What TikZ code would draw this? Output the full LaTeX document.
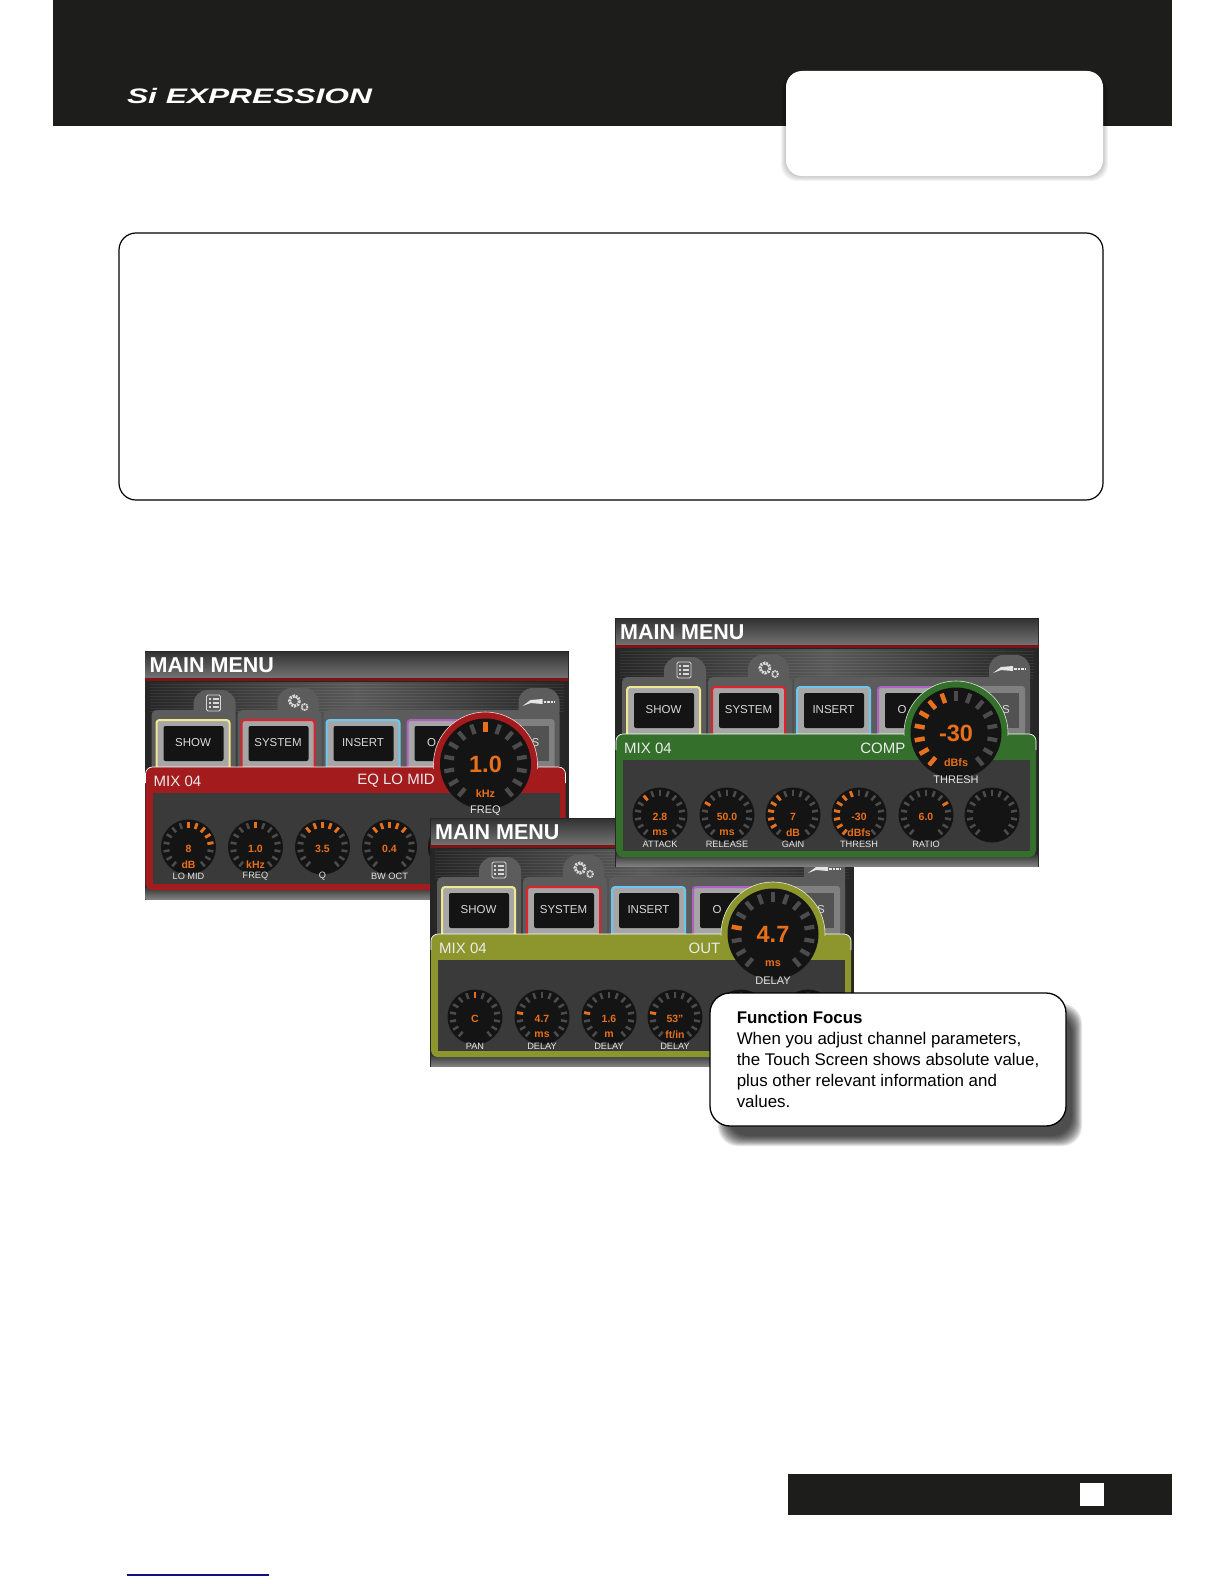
\documentclass[tikz,border=0pt]{standalone}
\usepackage{fontspec}
\setmainfont{Liberation Sans}
\usetikzlibrary{positioning, calc}

\definecolor{pagedark}{HTML}{1D1D1B}
\definecolor{eqred}{HTML}{A31B1D}
\definecolor{compgreen}{HTML}{34702B}
\definecolor{outolive}{HTML}{8C962C}
\definecolor{dialtick}{HTML}{4C4C4C}
\definecolor{dialorange}{HTML}{E8701A}
\definecolor{tabgrey}{HTML}{5C5C5C}
\definecolor{insetgrey}{HTML}{3A3A3A}
\definecolor{showyellow}{HTML}{F0E890}
\definecolor{sysred}{HTML}{E0222A}
\definecolor{insertblue}{HTML}{6CC6EE}
\definecolor{outpurple}{HTML}{AE62C2}
\definecolor{footblue}{HTML}{10107F}

% dial with its grey ticks
\newcommand{\knobdial}[3]{
    \fill[black!92] (#1) circle[radius=#2];
    \foreach \t in {230,210,190,170,150,130,110,90,70,50,30,10,350,330,310}
        \draw[dialtick, line width=#3] ($(#1)+(-\t:0.70*#2)$) -- ($(#1)+(-\t:0.92*#2)$);
}
% orange ticks over a dial
\newcommand{\knobmarks}[4]{
    \foreach \t in {#4}
        \draw[dialorange, line width=#3] ($(#1)+(-\t:0.70*#2)$) -- ($(#1)+(-\t:0.92*#2)$);
}
% small knob: centre, value, unit, label, orange ticks
\newcommand{\smallknob}[5]{
    \knobdial{#1}{27.5}{2.5}
    \knobmarks{#1}{27.5}{2.8}{#5}
    \node (value) [smallvalue] at ($(#1)+(0,2)$) {#2};
    \node (unit) [smallvalue] at ($(#1)+(0,17.5)$) {#3};
    \node (label) [smalllabel] at ($(#1)+(0,29)$) {#4};
}
% one whole screen: colour, section, big knob centre, value, unit, label, orange ticks
\newcommand{\menuscreen}[7]{
    % frame and title bar
    \fill[black!85] (0,0) rectangle (424,249);
    \shade[top color=black!80, bottom color=black!55] (1,1) rectangle (423,27);
    \fill[eqred!75!black] (0,27) rectangle (424,30);
    \shade[left color=black!85, right color=black!85, middle color=black!65] (3,31) rectangle (421,120);
    \foreach \sy in {33,36,...,60}
        \draw[white, opacity=0.07] (5,\sy) -- (419,\sy);
    \shade[top color=black!80, bottom color=black!50] (1,236) rectangle (423,248);
    \node (title) [titletext, anchor=west] at (5,14) {MAIN MENU};
    % tabs
    \fill[tabgrey, rounded corners=5] (7,120) rectangle (91,59);
    \fill[tabgrey, rounded corners=14] (49,75) rectangle (91,39);
    \fill[tabgrey, rounded corners=5] (93,120) rectangle (177,59);
    \fill[tabgrey, rounded corners=14] (133,75) rectangle (174,37);
    \fill[tabgrey, rounded corners=5] (179,120) rectangle (415,59);
    \fill[tabgrey, rounded corners=14] (374,75) rectangle (415,37);
    % tab icons
    \draw[black!15, line width=0.9, rounded corners=1.5] (62,44) rectangle (76,60);
    \foreach \iy in {48,52,56} {
        \draw[black!15, line width=1.1] (64,\iy) -- (66,\iy);
        \draw[black!15, line width=1.1] (68,\iy) -- (74,\iy);
    }
    \draw[black!15, line width=3, dash pattern=on 2 off 1] (150,50) circle[radius=5];
    \draw[black!15, line width=1.8, dash pattern=on 1.2 off 0.7] (160,56) circle[radius=3];
    \fill[black!10] (378,55) -- (386,49) -- (398,48) -- (398,53) -- (386,52) -- cycle;
    \draw[black!10, line width=2, dash pattern=on 2.5 off 1] (399,50.5) -- (410,50.5);
    % buttons
    \foreach \bx/\bcol/\btxt in {12/showyellow/SHOW, 97/sysred/SYSTEM, 182/insertblue/INSERT} {
        \draw[\bcol, line width=2, fill=black!35, rounded corners=3] (\bx,69) rectangle (\bx+73,122);
        \fill[black!92, rounded corners=2] (\bx+7,75) rectangle (\bx+67,110);
        \node (btn\bx) [buttontext] at (\bx+36.5,92) {\btxt};
    }
    \draw[outpurple, line width=2, fill=black!35, rounded corners=3] (263,69) rectangle (336,122);
    \fill[black!92, rounded corners=2] (270,75) rectangle (330,110);
    \node (btnfour) [buttontext] at (287,92) {O};
    \fill[black!50, rounded corners=3] (340,68) rectangle (410,122);
    \fill[black!68] (346,75) rectangle (404,110);
    \node (btnfive) [buttontext] at (391,92) {S};
    % coloured panel
    \fill[#1, rounded corners=7] (1,116) rectangle (421,239);
    \draw[white, line width=0.7, rounded corners=7] (1,132) -- (1,116) -- (421,116) -- (421,132);
    \fill[insetgrey] (8,142) rectangle (415,233);
    \node (mix) [paneltext, anchor=west] at (9,130) {MIX 04};
    \node (section) [paneltext, anchor=east] at (290.5,130) {#2};
    % big knob
    \begin{scope}
        \clip (250,0) rectangle (424,117.5);
        \draw[white!80!#1, line width=0.6, fill=#1] (#3) circle[radius=52];
    \end{scope}
    \knobdial{#3}{45.5}{4.2}
    \knobmarks{#3}{45.5}{4.4}{#7}
    \node (bigvalue) [bigvalue] at (#3) {#4};
    \node (bigunit) [bigunit] at ($(#3)+(0,30)$) {#5};
    \node (biglabel) [smalllabel, font=\fontsize{11}{12}\selectfont] at ($(#3)+(0,46.5)$) {#6};
}

\begin{document}
\begin{tikzpicture}[
        x=1pt,
        y=-1pt,
        inner sep=0pt,
        titletext/.style={text=white, font=\fontsize{21.5}{22}\selectfont\bfseries},
        buttontext/.style={text=black!15, font=\fontsize{11.5}{12}\selectfont},
        paneltext/.style={text=white!92!black, font=\fontsize{15}{16}\selectfont},
        smallvalue/.style={text=dialorange, font=\fontsize{10.5}{11}\selectfont\bfseries},
        smalllabel/.style={text=white!90!black, font=\fontsize{9.2}{10}\selectfont},
        bigvalue/.style={text=dialorange, font=\fontsize{23.5}{24}\selectfont\bfseries},
        bigunit/.style={text=dialorange, font=\fontsize{10.8}{11}\selectfont\bfseries},
        softedge/.style={black, opacity=0.045},
    ]
        \useasboundingbox (0,0) rectangle (1224,1584);

        % Header band and logo
        \fill[pagedark] (53,0) rectangle (1172,126);
        \node (logo) [text=white, xscale=1.51, transform shape, font=\fontsize{21}{22}\selectfont\bfseries\itshape] at (249.5,95.5) {Si EXPRESSION};
        \foreach \i in {1,...,5}
            \fill[softedge, rounded corners=16] (786-\i,71+\i) rectangle (1103+\i,176+\i);
        \node (hdrtab) [fill=white, rounded corners=16, minimum width=317pt, minimum height=105pt] at (944.5,123.5) {};

        % Empty text box
        \node (textbox) [draw=black, line width=1.2pt, fill=white, rounded corners=17, minimum width=984pt, minimum height=267pt] at (611,366.5) {};

        % Red screen
        \begin{scope}[shift={(144.5,651)}]
            \menuscreen{eqred}{EQ LO MID}{341,113}{1.0}{kHz}{FREQ}{90}
            \smallknob{44,196}{8}{dB}{LO MID}{90,70,50,30,10}
            \smallknob{111,196}{1.0}{kHz}{FREQ}{90}
            \smallknob{178,196}{3.5}{}{Q}{130,110,90,70,50}
            \smallknob{245,196}{0.4}{}{BW OCT}{130,110,90,70,50}
            \knobdial{311,196}{27.5}{2.5}
        \end{scope}

        % Olive screen
        \begin{scope}[shift={(430,818)}]
            \menuscreen{outolive}{OUT}{343,116}{4.7}{ms}{DELAY}{170}
            \smallknob{45,199}{C}{}{PAN}{90}
            \smallknob{112,199}{4.7}{ms}{DELAY}{170}
            \smallknob{179,199}{1.6}{m}{DELAY}{170}
            \smallknob{245,199}{53"}{ft/in}{DELAY}{170}
            \knobdial{311,199}{27.5}{2.5}
            \knobdial{378,199}{27.5}{2.5}
        \end{scope}

        % Green screen
        \begin{scope}[shift={(615,618)}]
            \menuscreen{compgreen}{COMP}{341,115}{-30}{dBfs}{THRESH}{230,210,190,170,150,130,110}
            \smallknob{45,197}{2.8}{ms}{ATTACK}{130}
            \smallknob{112,197}{50.0}{ms}{RELEASE}{150}
            \smallknob{178,197}{7}{dB}{GAIN}{210,190,170,150,130}
            \smallknob{244,197}{-30}{dBfs}{THRESH}{230,210,190,170,150,130,110}
            \smallknob{311,197}{6.0}{}{RATIO}{30}
            \knobdial{377,197}{27.5}{2.5}
        \end{scope}

        % Callout and its shadow
        \foreach \i in {0,...,10}
            \fill[black, opacity=0.1, rounded corners=20] (728-\i,1014-\i) rectangle (1072+\i,1136+\i);
        \node (callout) [draw=black, line width=1.3pt, fill=white, rounded corners=20, minimum width=356pt, minimum height=133pt, align=left, font=\fontsize{16.9}{20.8}\selectfont] at (888,1059.5)
            {\textbf{Function Focus}\\When you adjust channel parameters,\\the Touch Screen shows absolute value,\\plus other relevant information and\\values.};

        % Footer band
        \fill[pagedark] (788,1474) rectangle (1172,1515);
        \node (pagebox) [fill=white, minimum width=24pt, minimum height=23pt] at (1092,1494.5) {};
        \draw[footblue, line width=1.2pt] (127,1575) -- (269,1575);
    \end{tikzpicture}
\end{document}
